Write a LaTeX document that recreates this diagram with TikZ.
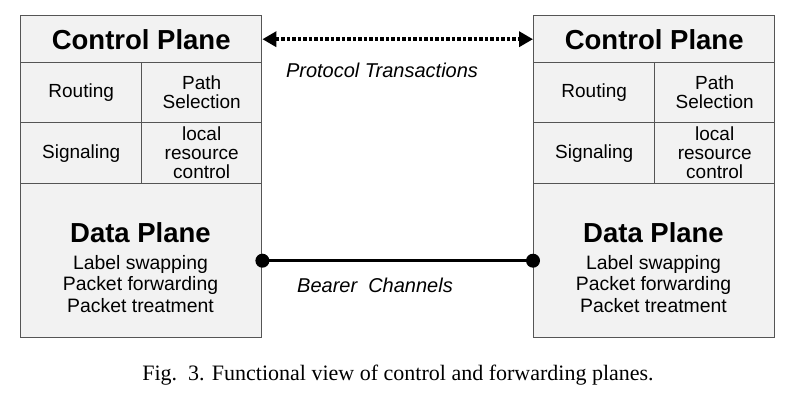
\documentclass[tikz,border=0pt]{standalone}
\usepackage{fontspec}
\setmainfont{Liberation Sans}
\newfontfamily\capfont{Liberation Serif}
\usetikzlibrary{arrows.meta}
\definecolor{cellfill}{HTML}{F2F2F2}
\definecolor{cellline}{HTML}{555555}
\begin{document}
\begin{tikzpicture}[x=1pt,y=-1pt,
  cell/.style={draw=cellline, fill=cellfill, line width=1.4pt, anchor=north west, inner sep=0pt, align=center,
    font=\fontsize{19}{19}\selectfont},
  title/.style={font=\fontsize{27.5}{30}\bfseries\selectfont},
  body/.style={align=center, font=\fontsize{19.4}{21.5}\selectfont, inner sep=0pt},
  lbl/.style={font=\fontsize{20}{22}\itshape\selectfont, inner sep=0pt},
  dotpt/.style={circle, fill=black, minimum size=14pt, inner sep=0pt}]
\useasboundingbox (0,0) rectangle (786,401);
\foreach \s/\x in {L/20, R/533}{
  \node[cell, minimum width=241pt, minimum height=47pt] (\s cp) at (\x,15) {};
  \node[title] at (\s cp.center) {Control Plane};
  \node[cell, minimum width=121pt, minimum height=60pt] (\s rt) at (\x,62) {Routing};
  \node[cell, minimum width=120pt, minimum height=60pt] (\s ps) at (\x+121,62) {Path\\Selection};
  \node[cell, minimum width=121pt, minimum height=61pt] (\s sg) at (\x,122) {Signaling};
  \node[cell, minimum width=120pt, minimum height=61pt] (\s lr) at (\x+121,122) {local\\resource\\control};
  \node[cell, minimum width=241pt, minimum height=154pt] (\s dp) at (\x,183) {};
  \node[title] (\s dt) at (\x+120.5,233) {Data Plane};
  \node[body, anchor=north] (\s dl) at (\x+120.5,255) {Label swapping\\Packet forwarding\\Packet treatment};
}
\draw[line width=3.5pt, dash pattern=on 3.5pt off 2pt,
  {Triangle[length=14pt,width=15pt]}-{Triangle[length=14pt,width=15pt]}] (Lcp.east) -- (Rcp.west);
\node[lbl] (pt) at (382,70) {Protocol Transactions};
\node[dotpt] (d1) at (Ldp.east) {};
\node[dotpt] (d2) at (Rdp.west) {};
\draw[line width=3pt] (d1.center) -- (d2.center);
\node[lbl] (bc) at (375,285) {Bearer\ \ Channels};
\node[inner sep=0pt, font=\capfont\fontsize{22}{24}\selectfont] (cap) at (398,375) {Fig.\ \ 3. Functional view of control and forwarding planes.};
\end{tikzpicture}
\end{document}
